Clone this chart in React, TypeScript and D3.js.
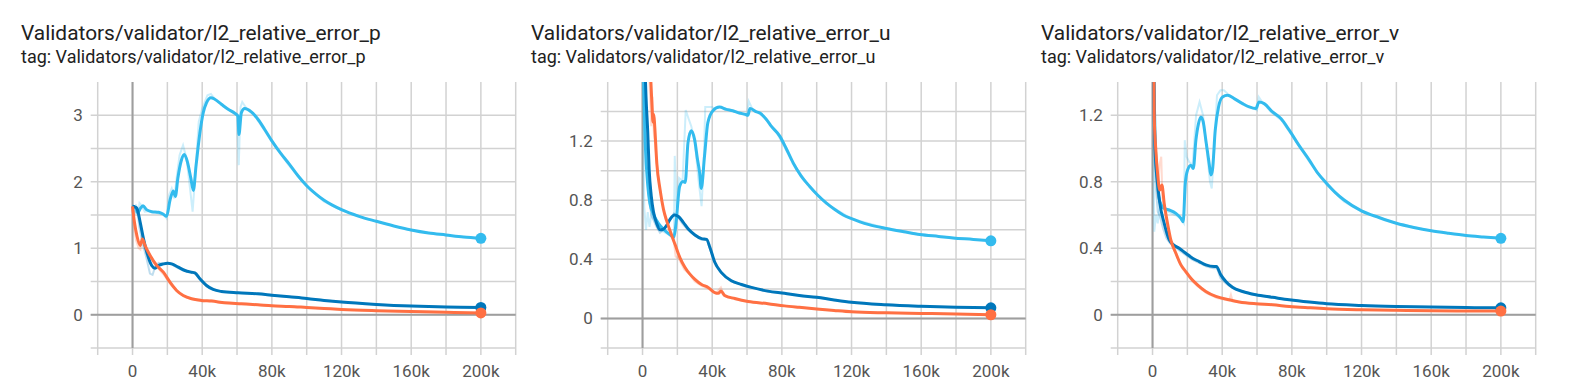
import React from "react";
import * as d3 from "d3";

type Pt = [number, number]; // [step in k, value]

// ---- data (steps in thousands) ----
const pCyan: Pt[] = [[0,1.63],[2,1.6],[3,1.53],[4.5,1.6],[6,1.64],[8,1.58],[11,1.55],[15,1.54],[17.5,1.515],[19.6,1.48],[21.5,1.72],[23.4,1.86],[24.6,1.78],[26,2.05],[28,2.32],[29.7,2.41],[31.5,2.3],[33.5,2.05],[34.9,1.87],[36.5,2.25],[38.7,2.74],[40.6,3.04],[42.5,3.19],[45,3.265],[47.2,3.24],[51,3.165],[54.9,3.09],[58.7,3.03],[60.5,2.99],[61.1,2.71],[62.5,3.04],[64.4,3.1],[68.2,3.05],[72,2.94],[75.8,2.79],[80,2.615],[85,2.43],[90,2.265],[95,2.09],[100,1.94],[105,1.82],[110,1.72],[115,1.645],[120,1.58],[130,1.48],[140,1.405],[150,1.335],[160,1.275],[170,1.23],[180,1.2],[190,1.17],[200,1.15]];
const pCyanRaw: Pt[] = [[0,1.63],[1,1.5],[2,1.66],[3,1.5],[4,1.68],[5,1.65],[7,1.55],[10,1.56],[14,1.53],[18,1.5],[19.5,1.45],[21,1.8],[22.5,1.9],[24,1.75],[25.5,2.1],[27,2.4],[29,2.55],[31,2.35],[33,1.9],[34.5,1.55],[36,2.1],[38,2.9],[40,3.1],[43,3.3],[45,3.32],[48,3.22],[52,3.15],[56,3.07],[60,3.0],[61,2.25],[62,3.12],[63,3.2],[66,3.08],[70,3.0],[75,2.8],[80,2.6],[90,2.24],[100,1.93],[110,1.7],[120,1.57],[140,1.4],[160,1.27],[180,1.19],[200,1.15]];
const pBlue: Pt[] = [[0,1.63],[1.5,1.62],[2.5,1.6],[4.4,1.39],[6.3,1.14],[8.2,0.94],[11,0.74],[12.9,0.7],[14.9,0.74],[17.7,0.765],[20.2,0.775],[22.5,0.765],[26.3,0.715],[30.1,0.665],[33.9,0.64],[35.8,0.63],[38.7,0.54],[42.5,0.44],[46.3,0.38],[51,0.35],[60.6,0.33],[72,0.315],[80,0.295],[90,0.27],[100,0.245],[110,0.215],[120,0.19],[140,0.155],[160,0.13],[180,0.115],[200,0.11]];
const pBlueRaw: Pt[] = [[0,1.63],[1.5,1.55],[2.5,1.62],[4,1.3],[6,1.05],[8,0.85],[10,0.62],[11.5,0.6],[13,0.72],[15,0.78],[18,0.76],[20,0.78],[23,0.75],[26,0.7],[30,0.66],[33,0.63],[36,0.62],[39,0.52],[43,0.42],[47,0.37],[52,0.345],[60,0.33],[72,0.31],[80,0.29],[100,0.245],[120,0.19],[140,0.155],[160,0.13],[180,0.115],[200,0.11]];
const pOrange: Pt[] = [[0,1.63],[1.1,1.39],[2.5,1.19],[4.4,1.04],[5.7,1.14],[7.2,1.04],[10.1,0.89],[13.9,0.74],[17.7,0.64],[21.5,0.49],[25.3,0.365],[29.1,0.29],[33.9,0.24],[39.6,0.215],[45.3,0.205],[52.9,0.18],[62.5,0.165],[72,0.15],[80,0.135],[90,0.125],[100,0.11],[110,0.095],[120,0.08],[140,0.062],[160,0.05],[180,0.038],[200,0.028]];
const pOrangeRaw: Pt[] = [[0,1.6],[1,1.3],[2,1.12],[3.5,1.0],[4.5,0.98],[5.5,1.2],[7,1.0],[10,0.86],[14,0.72],[18,0.6],[22,0.45],[26,0.34],[30,0.27],[35,0.23],[40,0.2],[45,0.22],[50,0.18],[60,0.16],[70,0.15],[80,0.13],[90,0.13],[100,0.11],[120,0.08],[140,0.06],[160,0.05],[180,0.04],[200,0.028]];

const uCyan: Pt[] = [[0,1.9],[1.5,1.2],[3,0.9],[4.2,0.78],[6.5,0.7],[9,0.645],[11.5,0.61],[13.7,0.586],[16,0.565],[17.9,0.55],[18.8,0.6],[19.4,0.666],[21.3,0.893],[23.2,0.927],[24.5,0.92],[26.1,1.19],[28,1.27],[29.9,1.21],[31.5,1.08],[32.8,0.985],[33.7,0.88],[35.6,1.1],[37.5,1.325],[40.4,1.405],[44.2,1.43],[48,1.415],[51.8,1.405],[55.6,1.39],[59.4,1.38],[60.5,1.375],[61.7,1.42],[65.1,1.4],[67.4,1.39],[70.9,1.35],[74,1.3],[78.8,1.234],[82.5,1.15],[86.5,1.052],[91,0.965],[96,0.893],[100.5,0.835],[105.6,0.78],[110,0.74],[115.2,0.7],[120,0.675],[124.8,0.654],[130,0.635],[140,0.609],[150,0.587],[159.2,0.568],[170,0.555],[178.3,0.545],[190,0.535],[200,0.525]];
const uCyanRaw: Pt[] = [[0,1.8],[1,0.75],[2,0.6],[3,0.72],[4,0.62],[5,0.7],[7,0.66],[10,0.6],[13,0.58],[16,0.56],[18,0.54],[18.5,1.1],[19.5,0.75],[21,0.95],[23,0.93],[24.8,1.41],[26.5,1.35],[28,1.3],[30,1.2],[32,0.95],[33.9,0.76],[35,1.0],[36,1.43],[40,1.43],[41,1.42],[44,1.43],[48,1.42],[55,1.39],[60,1.37],[61,1.47],[63,1.42],[70,1.36],[77,1.26],[85,1.08],[95,0.9],[105,0.78],[120,0.675],[140,0.61],[160,0.568],[180,0.545],[200,0.525]];
const uBlue: Pt[] = [[0,2.6],[1,1.9],[2,1.5],[3,1.26],[3.8,1.01],[5,0.83],[6.3,0.72],[8.2,0.64],[10.1,0.6],[12,0.605],[13.9,0.63],[15.8,0.67],[18.3,0.7],[20.6,0.69],[23.4,0.65],[26.3,0.605],[30.1,0.565],[33.9,0.54],[36.8,0.535],[38.7,0.48],[41.5,0.38],[45.3,0.31],[51,0.255],[56.8,0.23],[62.5,0.21],[72,0.185],[81.5,0.17],[90,0.155],[100,0.143],[110,0.125],[120,0.109],[140,0.092],[160,0.082],[180,0.075],[200,0.072]];
const uBlueRaw: Pt[] = [[0,2.4],[1,1.5],[2,1.2],[3,0.95],[4,0.8],[5,0.7],[6.5,0.66],[8,0.62],[10,0.58],[12,0.6],[14,0.64],[16,0.68],[18,0.71],[20,0.69],[23,0.64],[26,0.6],[30,0.56],[34,0.53],[37,0.53],[39,0.46],[42,0.36],[46,0.3],[51,0.25],[57,0.23],[63,0.21],[72,0.18],[82,0.17],[100,0.14],[120,0.108],[140,0.09],[160,0.08],[180,0.075],[200,0.072]];
const uOrange: Pt[] = [[0,3.0],[2,2.2],[3.5,1.8],[4.8,1.6],[5.5,1.42],[6,1.33],[6.5,1.38],[7,1.3],[8.2,1.05],[10.1,0.87],[12,0.74],[13.9,0.66],[16.8,0.56],[18.7,0.5],[21.5,0.41],[24.4,0.345],[27.2,0.3],[30.1,0.265],[33.9,0.23],[37.7,0.21],[41.5,0.175],[43.5,0.17],[45,0.185],[47.2,0.155],[53,0.135],[60.6,0.115],[72,0.1],[81.5,0.085],[90,0.075],[100,0.064],[110,0.054],[120,0.045],[140,0.038],[160,0.034],[180,0.03],[200,0.025]];
const uOrangeRaw: Pt[] = [[0,2.8],[2,2.0],[4,1.6],[5,1.3],[5.7,1.5],[6.5,1.25],[7.5,1.15],[9,0.95],[11,0.8],[13,0.68],[16,0.58],[18,0.52],[19,0.42],[21,0.4],[24,0.33],[27,0.3],[30,0.25],[34,0.22],[38,0.2],[42,0.17],[45,0.21],[47,0.15],[53,0.13],[60,0.115],[72,0.1],[82,0.085],[100,0.064],[116,0.05],[120,0.045],[140,0.038],[160,0.034],[180,0.03],[200,0.025]];

const vCyan: Pt[] = [[0,1.8],[1.5,1.05],[3,0.76],[4.2,0.68],[6.7,0.64],[9.6,0.63],[13.4,0.61],[16.3,0.58],[17.6,0.56],[18.8,0.79],[20.1,0.87],[22,0.9],[23.4,0.88],[24.9,1.05],[26.4,1.15],[27.8,1.19],[29.1,1.16],[30.6,1.05],[32.5,0.91],[33.5,0.84],[34.4,0.87],[36,1.11],[37.9,1.25],[40.2,1.31],[43.1,1.32],[46.9,1.3],[51.7,1.27],[55.5,1.25],[59.3,1.24],[61.2,1.28],[64.1,1.27],[68.9,1.22],[73.7,1.18],[78.5,1.11],[84,1.02],[90,0.93],[95,0.85],[100,0.79],[105,0.735],[110,0.69],[120,0.625],[130,0.585],[140,0.55],[150,0.525],[160,0.505],[170,0.49],[180,0.477],[190,0.468],[200,0.46]];
const vCyanRaw: Pt[] = [[0,1.7],[1,0.5],[2,0.6],[3,0.55],[4,0.66],[6,0.64],[9,0.62],[13,0.6],[16,0.58],[18,0.55],[18.5,1.05],[19.5,0.95],[21,0.92],[23,0.9],[25,1.2],[27,1.28],[29,1.2],[31,1.0],[33,0.8],[34,0.76],[35.5,1.0],[37,1.32],[39,1.35],[41,1.35],[44,1.32],[48,1.29],[52,1.27],[56,1.25],[60,1.23],[61,1.31],[63,1.28],[68,1.22],[74,1.17],[80,1.08],[90,0.92],[100,0.78],[110,0.68],[120,0.62],[140,0.55],[160,0.505],[180,0.475],[200,0.46]];
const vBlue: Pt[] = [[0,2.5],[1,1.2],[1.5,0.99],[2.9,0.79],[4.2,0.67],[6.7,0.55],[9.6,0.45],[11.5,0.425],[15.3,0.4],[19.1,0.37],[23,0.34],[26.8,0.32],[30.6,0.3],[35.4,0.29],[36.7,0.29],[39.2,0.24],[42.1,0.2],[45.9,0.165],[51.7,0.14],[59.3,0.12],[68.9,0.105],[78.5,0.09],[90,0.076],[100,0.066],[120,0.056],[140,0.05],[160,0.046],[180,0.043],[200,0.042]];
const vBlueRaw: Pt[] = [[0,2.3],[1,1.0],[2,0.75],[3,0.62],[4,0.6],[6,0.52],[8,0.46],[10,0.43],[12,0.42],[15,0.39],[19,0.36],[23,0.33],[27,0.31],[31,0.29],[35,0.28],[37,0.28],[39,0.22],[42,0.19],[46,0.16],[52,0.14],[60,0.12],[70,0.1],[80,0.088],[100,0.066],[120,0.056],[140,0.05],[160,0.046],[180,0.043],[200,0.042]];
const vOrange: Pt[] = [[0,2.4],[1,1.19],[1.9,0.99],[2.9,0.85],[4.2,0.75],[5.4,0.78],[6.7,0.67],[8.6,0.55],[10.5,0.45],[13.4,0.37],[16.3,0.3],[19.1,0.26],[22,0.22],[25.8,0.18],[30.6,0.14],[36.4,0.11],[44,0.09],[49.8,0.077],[59.3,0.066],[68.9,0.06],[78.5,0.05],[90,0.042],[100,0.036],[120,0.03],[140,0.027],[160,0.024],[180,0.023],[200,0.022]];
const vOrangeRaw: Pt[] = [[0,2.2],[1,1.0],[2,0.85],[3,0.7],[4,0.9],[5,0.95],[5.7,0.7],[7,0.62],[9,0.5],[11,0.42],[14,0.35],[17,0.28],[20,0.24],[23,0.2],[26,0.17],[31,0.13],[37,0.1],[44,0.085],[45,0.12],[46,0.08],[50,0.075],[60,0.065],[70,0.058],[80,0.05],[100,0.036],[120,0.03],[140,0.027],[160,0.024],[180,0.023],[200,0.022]];

const xGrid = [-20, 0, 20, 40, 60, 80, 100, 120, 140, 160, 180, 200, 220];
const xLabels = [0, 40, 80, 120, 160, 200];

const CYAN = "#33bbee";
const BLUE = "#0077bb";
const ORANGE = "#ff7043";

const panels = [
  {
    key: "p",
    title: "Validators/validator/l2_relative_error_p",
    yDomain: [-0.5, 3.5],
    yGrid: [-0.5, 0, 0.5, 1, 1.5, 2, 2.5, 3],
    yLabels: [0, 1, 2, 3],
    series: [
      { color: CYAN, raw: pCyanRaw, smooth: pCyan },
      { color: BLUE, raw: pBlueRaw, smooth: pBlue },
      { color: ORANGE, raw: pOrangeRaw, smooth: pOrange },
    ],
  },
  {
    key: "u",
    title: "Validators/validator/l2_relative_error_u",
    yDomain: [-0.2, 1.6],
    yGrid: [-0.2, 0, 0.2, 0.4, 0.6, 0.8, 1, 1.2, 1.4],
    yLabels: [0, 0.4, 0.8, 1.2],
    series: [
      { color: CYAN, raw: uCyanRaw, smooth: uCyan },
      { color: BLUE, raw: uBlueRaw, smooth: uBlue },
      { color: ORANGE, raw: uOrangeRaw, smooth: uOrange },
    ],
  },
  {
    key: "v",
    title: "Validators/validator/l2_relative_error_v",
    yDomain: [-0.2, 1.4],
    yGrid: [-0.2, 0, 0.2, 0.4, 0.6, 0.8, 1, 1.2],
    yLabels: [0, 0.4, 0.8, 1.2],
    series: [
      { color: CYAN, raw: vCyanRaw, smooth: vCyan },
      { color: BLUE, raw: vBlueRaw, smooth: vBlue },
      { color: ORANGE, raw: vOrangeRaw, smooth: vOrange },
    ],
  },
];

const FONT = "Roboto, 'Noto Sans', sans-serif";
const plotTop = 82;
const plotBottom = 348;

function Panel({ panel, offset }) {
  const x = d3.scaleLinear().domain([-20, 220]).range([offset + 97.7, offset + 515.7]);
  const y = d3.scaleLinear().domain(panel.yDomain).range([plotBottom, plotTop]);
  const line = d3
    .line<Pt>()
    .x((d) => x(d[0]))
    .y((d) => y(d[1]));
  const smoothLine = d3
    .line<Pt>()
    .x((d) => x(d[0]))
    .y((d) => y(d[1]))
    .curve(d3.curveMonotoneX);
  const [x0, x1] = x.range();
  const clipId = `clip-${panel.key}`;
  const fmt = (d: number) => (d === 0 ? "0" : `${d}k`);

  return (
    <g>
      <text x={offset + 21} y={40} fontFamily={FONT} fontSize={20.9} fill="#212121">
        {panel.title}
      </text>
      <text x={offset + 21} y={63} fontFamily={FONT} fontSize={18} fill="#212121">
        {"tag: " + panel.title}
      </text>

      <defs>
        <clipPath id={clipId}>
          <rect x={x0} y={plotTop} width={x1 - x0} height={plotBottom - plotTop} />
        </clipPath>
      </defs>

      {/* grid */}
      {xGrid.map((d) => (
        <line key={"gx" + d} x1={x(d)} x2={x(d)} y1={plotTop} y2={plotBottom + 7} stroke="#d2d2d2" strokeWidth={1.5} />
      ))}
      {panel.yGrid.map((d) => (
        <line key={"gy" + d} x1={x0 - 7} x2={x1} y1={y(d)} y2={y(d)} stroke="#d2d2d2" strokeWidth={1.5} />
      ))}
      {/* zero lines */}
      <line x1={x(0)} x2={x(0)} y1={plotTop} y2={plotBottom} stroke="#9e9e9e" strokeWidth={2} />
      <line x1={x0 - 7} x2={x1} y1={y(0)} y2={y(0)} stroke="#9e9e9e" strokeWidth={2} />

      {/* labels */}
      {xLabels.map((d) => (
        <text key={"lx" + d} x={x(d)} y={377} textAnchor="middle" fontFamily={FONT} fontSize={17} fill="#555">
          {fmt(d)}
        </text>
      ))}
      {panel.yLabels.map((d) => (
        <text key={"ly" + d} x={x0 - 15} y={y(d) + 6} textAnchor="end" fontFamily={FONT} fontSize={17} fill="#555">
          {d}
        </text>
      ))}

      {/* series */}
      <g clipPath={`url(#${clipId})`}>
        {panel.series.map((s, i) => (
          <path key={"r" + i} d={line(s.raw) || ""} fill="none" stroke={s.color} strokeOpacity={0.25} strokeWidth={2} />
        ))}
        {panel.series.map((s, i) => (
          <path key={"s" + i} d={smoothLine(s.smooth) || ""} fill="none" stroke={s.color} strokeWidth={3} strokeLinejoin="round" />
        ))}
      </g>
      {panel.series.map((s, i) => {
        const last = s.smooth[s.smooth.length - 1];
        return <circle key={"c" + i} cx={x(last[0])} cy={y(last[1])} r={5.5} fill={s.color} />;
      })}
    </g>
  );
}

export default function App() {
  return (
    <svg
      width={1580}
      height={387}
      style={{ position: "absolute", left: 0, top: 0, background: "#fff" }}
    >
      {panels.map((p, i) => (
        <Panel key={p.key} panel={p} offset={i * 510} />
      ))}
    </svg>
  );
}
